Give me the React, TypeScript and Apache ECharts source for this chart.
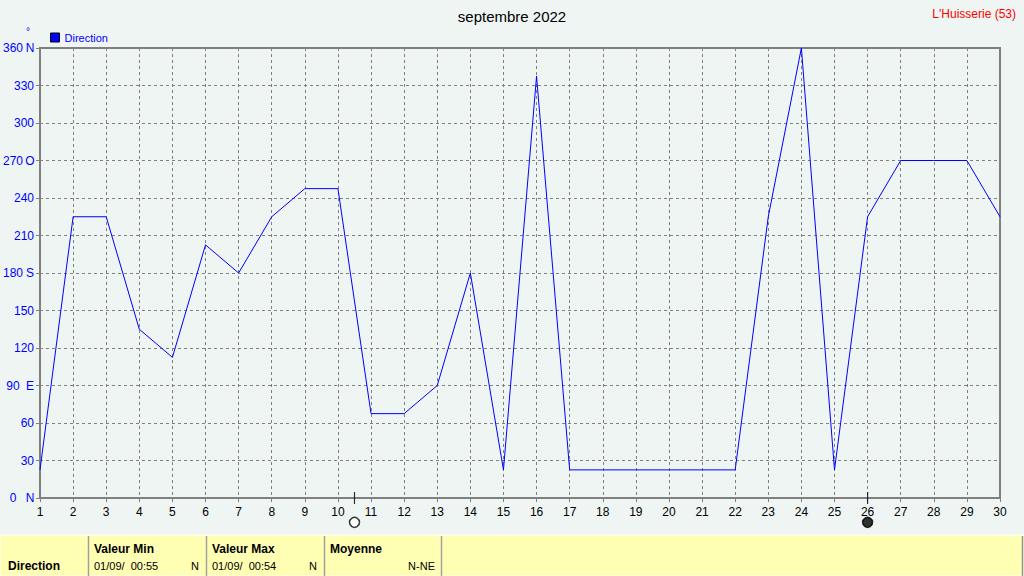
import React, { useEffect, useRef } from "react";
import * as echarts from "echarts";

const days = [1, 2, 3, 4, 5, 6, 7, 8, 9, 10, 11, 12, 13, 14, 15, 16, 17, 18, 19, 20, 21, 22, 23, 24, 25, 26, 27, 28, 29, 30];
const direction = [22.5, 225, 225, 135, 112.5, 202.5, 180, 225, 247.5, 247.5, 67.5, 67.5, 90, 180, 22.5, 337.5, 22.5, 22.5, 22.5, 22.5, 22.5, 22.5, 225, 360, 22.5, 225, 270, 270, 270, 225];
const yTickDirs: Record<number, string> = { 0: "N", 90: "E", 180: "S", 270: "O", 360: "N" };
const moonDays = [10.5, 26];
const moonFilled = [false, true];
const tableHeaders = ["Valeur Min", "Valeur Max", "Moyenne"];
const tableValues = ["01/09/  00:55", "01/09/  00:54", ""];
const tableDirs = ["N", "N", "N-NE"];

const FONT = "'Liberation Sans', Arial, sans-serif";

export default function App() {
  const ref = useRef<HTMLDivElement>(null);
  useEffect(() => {
    if (!ref.current) return;
    const chart = echarts.init(ref.current, null, { renderer: "svg" });
    const colX = [88, 206, 324];
    const colW = 118;
    const tableGraphics: any[] = [
      { type: "rect", shape: { x: 0, y: 535, width: 1024, height: 41 }, style: { fill: "#ffffb4", stroke: "#ffffff", lineWidth: 1 }, silent: true },
      { type: "line", shape: { x1: 1022.5, y1: 536, x2: 1022.5, y2: 576 }, style: { stroke: "#909090", lineWidth: 1.5 } },
      { type: "text", style: { text: "Direction", x: 8, y: 566, fill: "#000", font: `bold 12px ${FONT}`, textVerticalAlign: "middle" } },
    ];
    [88, 206, 324, 441].forEach((x) => {
      tableGraphics.push({ type: "line", shape: { x1: x + 0.5, y1: 536, x2: x + 0.5, y2: 576 }, style: { stroke: "#a0a0a0", lineWidth: 1.5 } });
    });
    tableHeaders.forEach((h, i) => {
      tableGraphics.push({ type: "text", style: { text: h, x: colX[i] + 6, y: 549, fill: "#000", font: `bold 12px ${FONT}`, textVerticalAlign: "middle" } });
      if (tableValues[i]) {
        tableGraphics.push({ type: "text", style: { text: tableValues[i], x: colX[i] + 6, y: 566, fill: "#000", font: `11px ${FONT}`, textVerticalAlign: "middle" } });
      }
      tableGraphics.push({ type: "text", style: { text: tableDirs[i], x: colX[i] + colW - 7, y: 566, fill: "#000", font: `11px ${FONT}`, textAlign: "right", textVerticalAlign: "middle" } });
    });

    chart.setOption({
      animation: false,
      backgroundColor: "#eef5f3",
      title: [
        { text: "septembre 2022", left: "center", top: 4, textStyle: { color: "#000", fontSize: 15, fontWeight: "normal", fontFamily: FONT } },
        { text: "L'Huisserie (53)", right: 3, top: 3, textStyle: { color: "#ff0000", fontSize: 12, fontWeight: "normal", fontFamily: FONT } },
      ],
      legend: {
        data: ["Direction"],
        left: 50,
        top: 32,
        icon: "rect",
        itemWidth: 9,
        itemHeight: 9,
        itemGap: 4,
        padding: 0,
        textStyle: { color: "#0000ff", fontSize: 11, fontFamily: FONT, padding: [0, 0, 0, 0] },
        itemStyle: { borderColor: "#000", borderWidth: 1 },
      },
      grid: { left: 40, top: 48, width: 960, height: 450, show: true, borderColor: "#808080", borderWidth: 2, backgroundColor: "transparent" },
      xAxis: {
        type: "value",
        min: 1,
        max: 30,
        interval: 1,
        axisLine: { lineStyle: { color: "#808080", width: 2 } },
        axisTick: { show: true, length: 4, lineStyle: { color: "#808080" } },
        axisLabel: { color: "#000", fontSize: 12, fontFamily: FONT, margin: 8 },
        splitLine: { show: true, lineStyle: { color: "#808080", type: [3, 3], width: 1 } },
      },
      yAxis: {
        type: "value",
        min: 0,
        max: 360,
        interval: 30,
        axisLine: { show: true, lineStyle: { color: "#808080", width: 2 } },
        axisTick: { show: true, length: 4, lineStyle: { color: "#808080" } },
        axisLabel: {
          color: "#0000ff",
          fontSize: 12,
          fontFamily: FONT,
          margin: 6,
          formatter: (v: number) => {
            const d = yTickDirs[v];
            return d ? `{num|${v}}{dir|${d}}` : `${v}`;
          },
          rich: {
            num: { color: "#0000ff", fontSize: 12, fontFamily: FONT, width: 20, align: "right" },
            dir: { color: "#0000ff", fontSize: 12, fontFamily: FONT, width: 8, align: "left", padding: [0, 0, 0, 3] },
          },
        },
        splitLine: { show: true, lineStyle: { color: "#808080", type: [3, 3], width: 1 } },
      },
      graphic: [
        { type: "text", style: { text: "°", x: 26, y: 26, fill: "#0000ff", font: `10px ${FONT}` } },
        ...tableGraphics,
      ],
      series: [
        {
          name: "Direction",
          type: "line",
          data: days.map((d, i) => [d, direction[i]]),
          color: "#0000ff",
          lineStyle: { color: "#0000ff", width: 1 },
          symbol: "none",
          clip: false,
        },
        {
          name: "moonTick",
          type: "scatter",
          clip: false,
          symbol: "rect",
          symbolSize: [1.2, 12],
          silent: true,
          itemStyle: { color: "#000" },
          data: moonDays.map((d) => [d, 0]),
        },
        {
          name: "moon",
          type: "scatter",
          clip: false,
          symbol: "circle",
          symbolSize: 10,
          silent: true,
          data: moonDays.map((d, i) => ({
            value: [d, -19.5],
            itemStyle: { color: moonFilled[i] ? "#000" : "#ffffff", borderColor: "#000", borderWidth: 1.5 },
          })),
        },
      ],
    });
    return () => chart.dispose();
  }, []);
  return <div ref={ref} style={{ position: "fixed", left: 0, top: 0, width: 1024, height: 576 }} />;
}
